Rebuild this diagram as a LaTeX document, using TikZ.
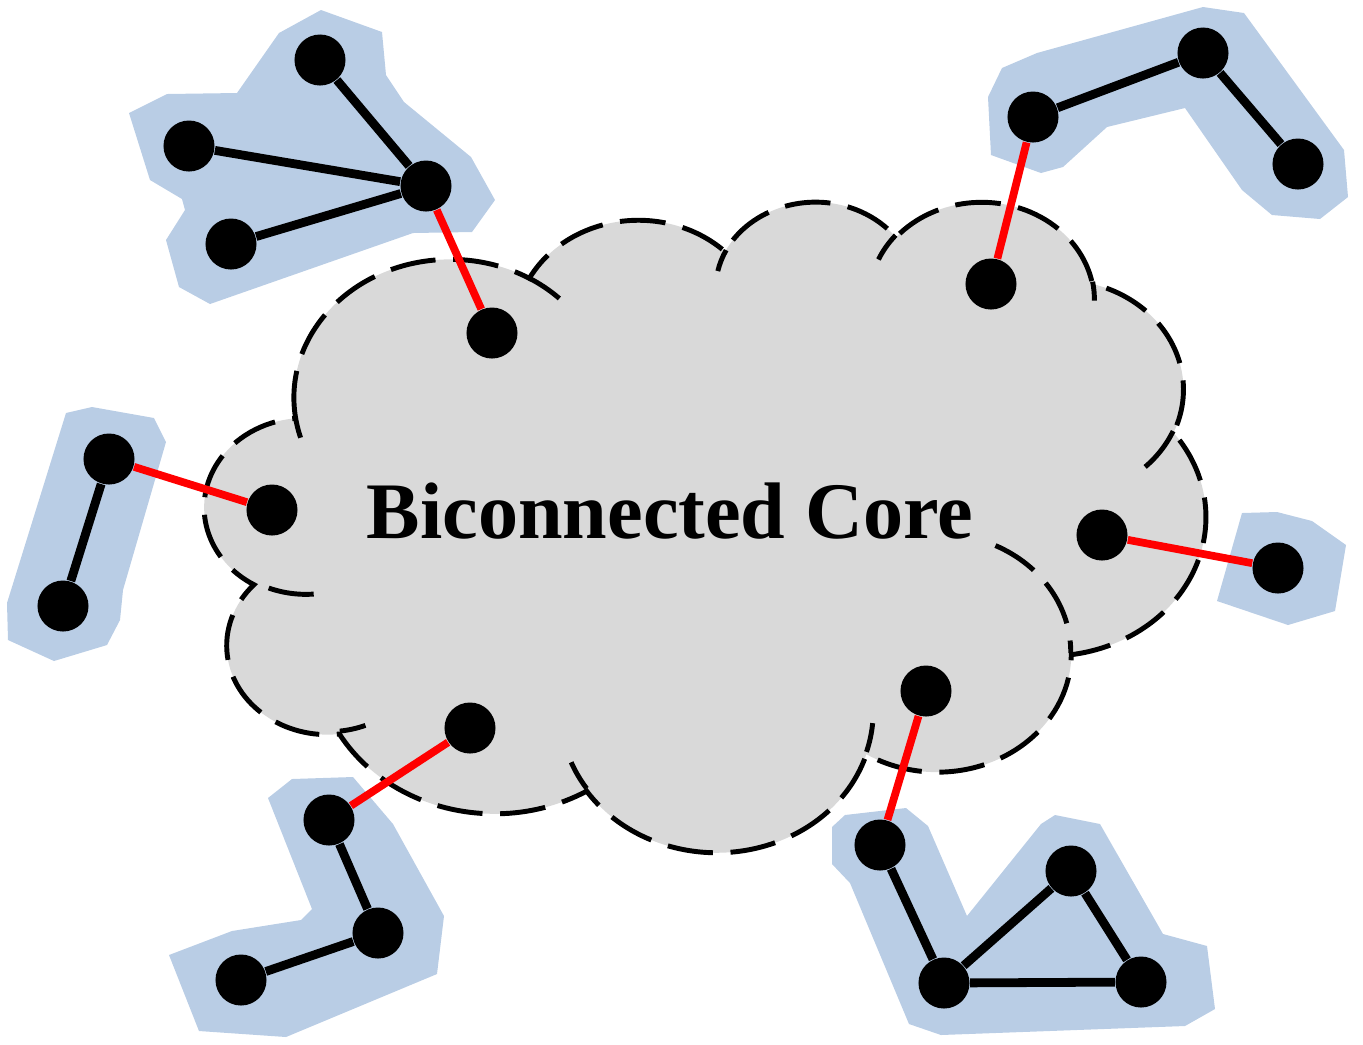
\documentclass[tikz,border=0pt]{standalone}
\usepackage{fontspec}
\setmainfont{Liberation Serif}
\definecolor{blobblue}{HTML}{B9CDE5}
\definecolor{cloudgray}{HTML}{D9D9D9}
\tikzset{
  vtx/.style={circle, fill=black, inner sep=0pt, minimum size=0.51cm},
  treeedge/.style={black, line width=2.5pt},
  bridge/.style={red, line width=2.2pt},
  blob/.style={fill=blobblue, draw=none},
  cloudfill/.style={fill=cloudgray, draw=none},
  cloudline/.style={draw=black, line width=1.4pt, dash pattern=on 13pt off 5pt},
}
\begin{document}
\begin{tikzpicture}[x=0.01cm, y=-0.01cm]
\useasboundingbox (0,0) rectangle (1363,1044);

% blue blobs
\fill[blob] (321,10) -- (382,32) -- (386,75) -- (404,102) -- (471,157) -- (495,200) -- (472,232) -- (413,233) -- (210,304) -- (179,287) -- (166,240) -- (185,210) -- (182,199) -- (150,180) -- (129,113) -- (167,94) -- (237,93) -- (279,33) -- cycle;
\fill[blob] (66,413) -- (92,407) -- (154,418) -- (166,442) -- (123,590) -- (120,620) -- (107,645) -- (54,661) -- (8,640) -- (7,603) -- cycle;
\fill[blob] (268,798) -- (292,779) -- (353,777) -- (393,824) -- (444,916) -- (437,974) -- (286,1037) -- (199,1031) -- (169,955) -- (232,931) -- (301,920) -- (312,909) -- cycle;
\fill[blob] (1203,7) -- (1244,13) -- (1344,150) -- (1348,197) -- (1320,219) -- (1272,215) -- (1242,190) -- (1185,108) -- (1107,127) -- (1063,167) -- (1041,173) -- (991,155) -- (988,97) -- (1002,68) -- (1037,53) -- cycle;
\fill[blob] (1242,513) -- (1277,512) -- (1312,521) -- (1346,545) -- (1335,611) -- (1288,625) -- (1217,601) -- cycle;
\fill[blob] (845,815) -- (906,808) -- (928,826) -- (967,916) -- (1041,824) -- (1055,815) -- (1100,824) -- (1163,934) -- (1207,946) -- (1215,1009) -- (1185,1026) -- (941,1035) -- (909,1024) -- (850,883) -- (832,864) -- (832,827) -- cycle;

% cloud
\begin{scope}[shift={(205,200)}, x=0.023148cm, y=-0.015046cm]
\path[cloudfill, cloudline] (39.00,143.70)
  arc[x radius=67.53, y radius=91.90, start angle=-187.74, end angle=-59.64]
  arc[x radius=53.33, y radius=72.67, start angle=-152.02, end angle=-45.46]
  arc[x radius=43.65, y radius=59.45, start angle=-153.49, end angle=-37.33]
  arc[x radius=48.57, y radius=65.95, start angle=-139.71, end angle=-10.21]
  arc[x radius=53.33, y radius=72.73, start angle=-74.77, end angle=23.21]
  arc[x radius=67.75, y radius=92.20, start angle=-37.53, end angle=81.86]
  arc[x radius=57.85, y radius=78.67, start angle=0.46, end angle=121.97]
  arc[x radius=67.52, y radius=92.15, start angle=16.84, end angle=146.23]
  arc[x radius=77.20, y radius=105.43, start angle=58.98, end angle=150.18]
  arc[x radius=43.60, y radius=59.18, start angle=83.31, end angle=223.10]
  arc[x radius=43.45, y radius=59.45, start angle=120.35, end angle=264.11]
  -- cycle;
\draw[cloudline] (46.93,261.77) arc[x radius=43.45, y radius=59.45, start angle=85.55, end angle=120.36];
\draw[cloudline] (69.28,348.99) arc[x radius=43.60, y radius=59.18, start angle=68.24, end angle=83.31];
\draw[cloudline] (164.78,390.90) arc[x radius=67.52, y radius=92.15, start angle=146.23, end angle=158.47];
\draw[cloudline] (288.27,347.51) arc[x radius=67.52, y radius=92.15, start angle=4.74, end angle=16.84];
\draw[cloudline] (341.29,229.54) arc[x radius=57.85, y radius=78.67, start angle=-64.03, end angle=0.46];
\draw[cloudline] (417.98,153.54) arc[x radius=53.33, y radius=72.73, start angle=23.21, end angle=49.63];
\draw[cloudline] (383.24,54.26) arc[x radius=48.57, y radius=65.95, start angle=-10.21, end angle=0.82];
\draw[cloudline] (290.78,39.52) arc[x radius=48.57, y radius=65.95, start angle=-156.29, end angle=-139.71];
\draw[cloudline] (221.41,47.20) arc[x radius=43.65, y radius=59.45, start angle=-167.73, end angle=-153.49];
\draw[cloudline] (140.00,51.92) arc[x radius=67.53, y radius=91.90, start angle=-59.64, end angle=-45.74];
\draw[cloudline] (41.27,157.89) arc[x radius=67.53, y radius=91.90, start angle=163.19, end angle=172.26];
\end{scope}

\node[font=\fontsize{22.8}{27}\selectfont\bfseries, anchor=base] (title) at (670,538) {Biconnected Core};

% vertices
\node[vtx] (a1) at (320,60) {};
\node[vtx] (a2) at (189,146) {};
\node[vtx] (a3) at (426,186) {};
\node[vtx] (a4) at (231,244) {};
\node[vtx] (b1) at (109,459) {};
\node[vtx] (b2) at (63,606) {};
\node[vtx] (d1) at (329,820) {};
\node[vtx] (d2) at (378,933) {};
\node[vtx] (d3) at (241,980) {};
\node[vtx] (e1) at (1033,117) {};
\node[vtx] (e2) at (1203,53) {};
\node[vtx] (e3) at (1298,164) {};
\node[vtx] (f1) at (1278,568) {};
\node[vtx] (g1) at (880,845) {};
\node[vtx] (g2) at (944,983) {};
\node[vtx] (g3) at (1071,871) {};
\node[vtx] (g4) at (1141,982) {};
\node[vtx] (c1) at (492,333) {};
\node[vtx] (c2) at (272,510) {};
\node[vtx] (c3) at (470,728) {};
\node[vtx] (c4) at (991,284) {};
\node[vtx] (c5) at (1102,535) {};
\node[vtx] (c6) at (926,691) {};

% tree edges
\draw[treeedge] (a1) -- (a3);
\draw[treeedge] (a2) -- (a3);
\draw[treeedge] (a4) -- (a3);
\draw[treeedge] (b1) -- (b2);
\draw[treeedge] (d1) -- (d2);
\draw[treeedge] (d2) -- (d3);
\draw[treeedge] (e1) -- (e2);
\draw[treeedge] (e2) -- (e3);
\draw[treeedge] (g1) -- (g2);
\draw[treeedge] (g2) -- (g3);
\draw[treeedge] (g3) -- (g4);
\draw[treeedge] (g2) -- (g4);

% bridges
\draw[bridge] (a3) -- (c1);
\draw[bridge] (b1) -- (c2);
\draw[bridge] (d1) -- (c3);
\draw[bridge] (e1) -- (c4);
\draw[bridge] (c5) -- (f1);
\draw[bridge] (c6) -- (g1);
\end{tikzpicture}
\end{document}
